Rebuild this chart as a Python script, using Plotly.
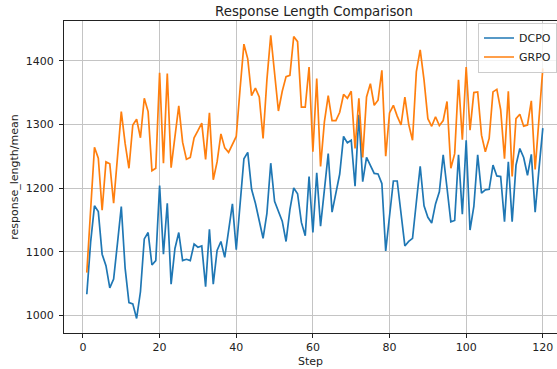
import plotly.graph_objects as go

steps = list(range(1, 121))

dcpo = [1033, 1115, 1172, 1163, 1096, 1078, 1043, 1057, 1113, 1171,
        1074, 1020, 1018, 995, 1037, 1120, 1130, 1079, 1086, 1204,
        1096, 1176, 1049, 1105, 1130, 1086, 1088, 1086, 1112, 1107,
        1109, 1045, 1135, 1049, 1102, 1116, 1091, 1131, 1175, 1103,
        1175, 1246, 1256, 1198, 1176, 1149, 1121, 1160, 1239, 1179,
        1164, 1148, 1116, 1166, 1200, 1191, 1146, 1125, 1218, 1130,
        1224, 1140, 1197, 1254, 1162, 1191, 1222, 1281, 1271, 1275,
        1203, 1315, 1210, 1248, 1234, 1223, 1222, 1207, 1101, 1159,
        1211, 1211, 1160, 1109, 1116, 1121, 1178, 1234, 1172, 1154,
        1145, 1175, 1194, 1252, 1200, 1147, 1149, 1252, 1159, 1275,
        1134, 1171, 1252, 1192, 1197, 1198, 1236, 1219, 1218, 1147,
        1241, 1147, 1236, 1262, 1248, 1220, 1253, 1162, 1230, 1294]

grpo = [1067, 1170, 1264, 1247, 1165, 1241, 1238, 1176, 1249, 1320,
        1270, 1231, 1299, 1308, 1279, 1341, 1320, 1227, 1231, 1381,
        1239, 1380, 1232, 1281, 1329, 1272, 1245, 1248, 1279, 1290,
        1302, 1245, 1318, 1213, 1241, 1285, 1263, 1256, 1268, 1281,
        1356, 1426, 1403, 1345, 1357, 1343, 1278, 1370, 1440, 1375,
        1321, 1352, 1375, 1377, 1438, 1430, 1327, 1327, 1390, 1257,
        1372, 1234, 1304, 1345, 1306, 1306, 1319, 1347, 1341, 1352,
        1262, 1341, 1248, 1343, 1364, 1330, 1338, 1385, 1250, 1318,
        1330, 1313, 1299, 1343, 1300, 1275, 1383, 1417, 1370, 1309,
        1297, 1312, 1298, 1306, 1336, 1231, 1254, 1370, 1276, 1390,
        1291, 1350, 1351, 1283, 1257, 1278, 1351, 1355, 1323, 1246,
        1352, 1218, 1309, 1316, 1297, 1299, 1337, 1229, 1305, 1388]

x_ticks = [0, 20, 40, 60, 80, 100, 120]
y_ticks = [1000, 1100, 1200, 1300, 1400]

FONT = "DejaVu Sans"

fig = go.Figure()
fig.add_trace(go.Scatter(x=steps, y=dcpo, mode="lines", name="DCPO",
                         line=dict(color="#1f77b4", width=1.7)))
fig.add_trace(go.Scatter(x=steps, y=grpo, mode="lines", name="GRPO",
                         line=dict(color="#ff7f0e", width=1.7)))

axis_common = dict(
    showgrid=True, gridcolor="#c4c4c4", gridwidth=1,
    showline=True, linecolor="#222222", linewidth=1,
    ticks="outside", ticklen=4, tickwidth=1, tickcolor="#222222",
    tickfont=dict(family=FONT, size=11, color="#222222"),
    zeroline=False,
)

fig.update_layout(
    width=557, height=369,
    margin=dict(l=64, r=0, t=21, b=36),
    paper_bgcolor="white", plot_bgcolor="white",
    font=dict(family=FONT, size=11, color="#222222"),
    title=dict(text="Response Length Comparison", x=314/557, xref="container",
               xanchor="center", y=1 - 11.5/369, yref="container", yanchor="middle",
               font=dict(family=FONT, size=13.3, color="#222222")),
    xaxis=dict(range=[-4.95, 123.7], tickvals=x_ticks, mirror=True,
               title=dict(text="Step", standoff=4, font=dict(family=FONT, size=11)),
               **axis_common),
    yaxis=dict(range=[972.2, 1462.4], tickvals=y_ticks, mirror=False,
               ticklabelstandoff=3,
               title=dict(text="response_length/mean", standoff=4, font=dict(family=FONT, size=11)),
               **axis_common),
    legend=dict(x=1, xanchor="right", y=1 - 1.5/312, yanchor="top",
                bgcolor="rgba(255,255,255,0.8)", bordercolor="#cccccc", borderwidth=1,
                font=dict(family=FONT, size=11, color="#222222"),
                tracegroupgap=0),
    showlegend=True,
)

fig.write_html("out.html")
